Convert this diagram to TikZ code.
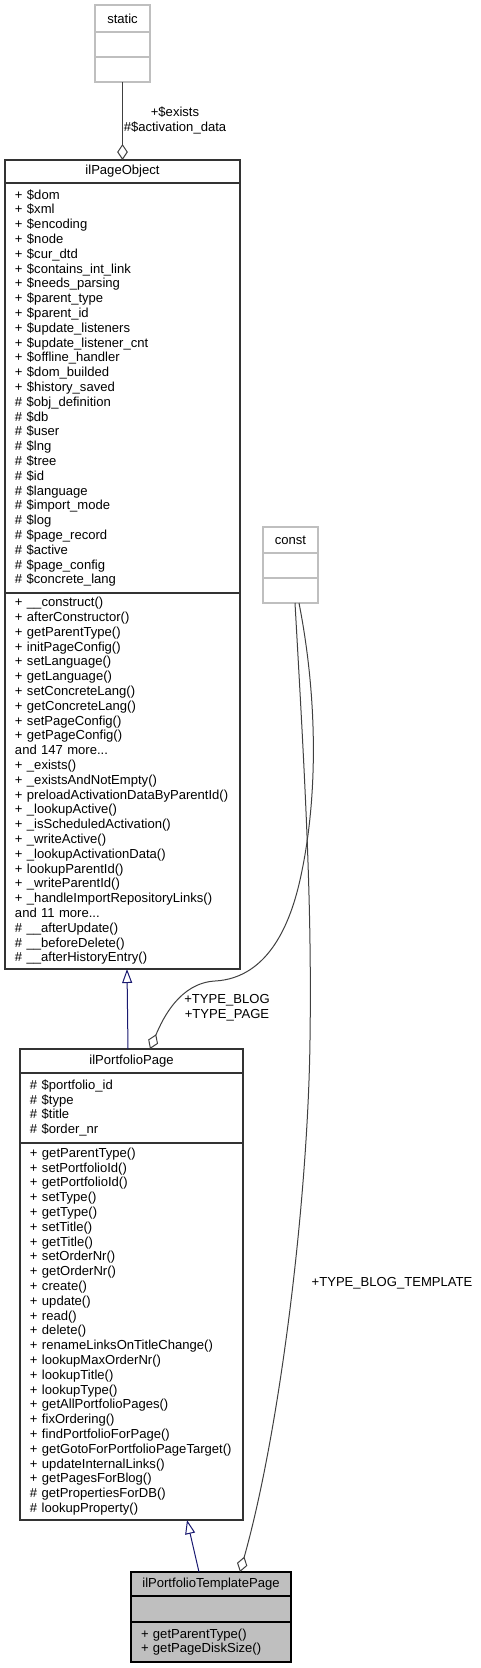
\documentclass[tikz,border=0pt]{standalone}
\usepackage{fontspec}
\setmainfont{Liberation Sans}
\usepackage{tikz}
\usetikzlibrary{arrows.meta,positioning,calc}
\definecolor{edgegray}{HTML}{404040}
\definecolor{litegray}{HTML}{BFBFBF}
\definecolor{navyline}{HTML}{191970}
\newcommand{\classfont}{\fontsize{9.8}{11.1}\selectfont}
\tikzset{
  % Base styles
  diagram base/.style={
    x=0.75pt, y=-0.75pt,
    every node/.style={font=\classfont, inner sep=0pt, outer sep=0pt},
  },
  % Class boxes
  class part/.style={draw=black!80, line width=0.8pt, fill=white, inner xsep=7.5pt, text width=#1},
  class title/.style={class part=#1, align=center},
  class body/.style={class part=#1, align=left},
  % Light boxes (static, const)
  ghost title/.style={class title=#1, draw=litegray},
  ghost body/.style={class body=#1, draw=litegray},
  % Selected class
  this title/.style={class title=#1, draw=black, fill=litegray},
  this body/.style={class body=#1, draw=black, fill=litegray},
  % Edges
  assoc edge/.style={draw=edgegray, line width=0.75pt, -{Diamond[open, length=12pt, width=8pt]}},
  inherit edge/.style={draw=navyline, line width=0.75pt, -{Triangle[open, length=10.5pt, width=7.5pt]}},
  % Edge labels
  edge label/.style={align=center},
}

\begin{document}
\begin{tikzpicture}[diagram base]
\useasboundingbox (0,0) rectangle (481,1668);

% static
\node[ghost title=26.25pt, minimum height=20.25pt, anchor=north] (S) at (122.5,5) {static};
\node[ghost body=26.25pt, minimum height=18.75pt, below=0pt of S] (S1) {};
\node[ghost body=26.25pt, minimum height=18.75pt, below=0pt of S1] (S2) {};

% ilPageObject
\node[class title=161.25pt, minimum height=17.25pt, anchor=north] (PO) at (122.5,160) {ilPageObject};
\node[class body=161.25pt, minimum height=307.5pt, below=0pt of PO] (PO1) {%
+ \$dom\\+ \$xml\\+ \$encoding\\+ \$node\\+ \$cur\_dtd\\+ \$contains\_int\_link\\%
+ \$needs\_parsing\\+ \$parent\_type\\+ \$parent\_id\\+ \$update\_listeners\\%
+ \$update\_listener\_cnt\\+ \$offline\_handler\\+ \$dom\_builded\\+ \$history\_saved\\%
\# \$obj\_definition\\\# \$db\\\# \$user\\\# \$lng\\\# \$tree\\\# \$id\\\# \$language\\%
\# \$import\_mode\\\# \$log\\\# \$page\_record\\\# \$active\\\# \$page\_config\\%
\# \$concrete\_lang};
\node[class body=161.25pt, minimum height=282pt, below=0pt of PO1] (PO2) {%
+ \_\_construct()\\+ afterConstructor()\\+ getParentType()\\+ initPageConfig()\\%
+ setLanguage()\\+ getLanguage()\\+ setConcreteLang()\\+ getConcreteLang()\\%
+ setPageConfig()\\+ getPageConfig()\\and 147 more...\\+ \_exists()\\%
+ \_existsAndNotEmpty()\\+ preloadActivationDataByParentId()\\+ \_lookupActive()\\%
+ \_isScheduledActivation()\\+ \_writeActive()\\+ \_lookupActivationData()\\%
+ lookupParentId()\\+ \_writeParentId()\\+ \_handleImportRepositoryLinks()\\%
and 11 more...\\\# \_\_afterUpdate()\\\# \_\_beforeDelete()\\\# \_\_afterHistoryEntry()};

% const
\node[ghost title=26.25pt, minimum height=19.5pt, anchor=north] (K) at (290.5,527) {const};
\node[ghost body=26.25pt, minimum height=18.75pt, below=0pt of K] (K1) {};
\node[ghost body=26.25pt, minimum height=18.75pt, below=0pt of K1] (K2) {};

% ilPortfolioPage
\node[class title=152.25pt, minimum height=18pt, anchor=north] (PP) at (131.5,1049) {ilPortfolioPage};
\node[class body=152.25pt, minimum height=52.5pt, below=0pt of PP] (PP1) {%
\# \$portfolio\_id\\\# \$type\\\# \$title\\\# \$order\_nr};
\node[class body=152.25pt, minimum height=282.75pt, below=0pt of PP1] (PP2) {%
+ getParentType()\\+ setPortfolioId()\\+ getPortfolioId()\\+ setType()\\+ getType()\\%
+ setTitle()\\+ getTitle()\\+ setOrderNr()\\+ getOrderNr()\\+ create()\\+ update()\\%
+ read()\\+ delete()\\+ renameLinksOnTitleChange()\\+ lookupMaxOrderNr()\\%
+ lookupTitle()\\+ lookupType()\\+ getAllPortfolioPages()\\+ fixOrdering()\\%
+ findPortfolioForPage()\\+ getGotoForPortfolioPageTarget()\\+ updateInternalLinks()\\%
+ getPagesForBlog()\\\# getPropertiesForDB()\\\# lookupProperty()};

% ilPortfolioTemplatePage
\node[this title=105pt, minimum height=18pt, anchor=north] (TP) at (211,1572) {ilPortfolioTemplatePage};
\node[this body=105pt, minimum height=19.5pt, below=0pt of TP] (TP1) {};
\node[this body=105pt, minimum height=30pt, below=0pt of TP1] (TP2) {%
+ getParentType()\\+ getPageDiskSize()};

% Edges
\draw[assoc edge] (S2.south) -- (PO.north);
\draw[inherit edge] ($(PP.north)+(-3.5,0)$) -- ($(PO2.south)+(4.5,0)$);
\draw[inherit edge] ($(TP.north)+(-12,0)$) -- ($(PP2.south)+(55.5,0)$);
\draw[assoc edge] ($(K2.south)+(8.5,0)$) .. controls (318,700) and (318,800) .. (300,880)
  .. controls (291,920) and (270,978) .. (215,981)
  .. controls (180,983) and (163,1018) .. ($(PP.north)+(18.5,0)$);
\draw[assoc edge] ($(K2.south)+(4.5,0)$) .. controls (305,780) and (312,900) .. (310,1040)
  .. controls (308,1200) and (280,1430) .. ($(TP.north)+(29,0)$);

% Edge labels
\node[edge label] (Lexists) at (175,120.5) {+\$exists\\\#\$activation\_data};
\node[edge label] (Ltype) at (227,1007.5) {+TYPE\_BLOG\\+TYPE\_PAGE};
\node[edge label] (Ltemplate) at (392,1283) {+TYPE\_BLOG\_TEMPLATE};
\end{tikzpicture}
\end{document}
